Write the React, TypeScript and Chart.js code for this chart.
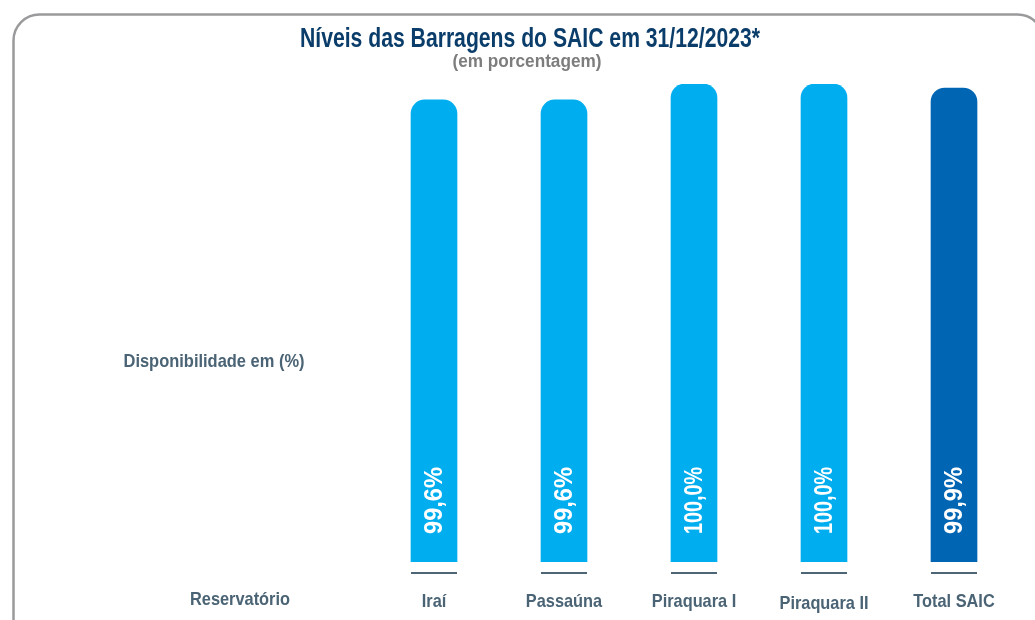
import React, { useEffect, useRef } from "react";
import { Chart, registerables } from "chart.js";

Chart.register(...registerables);

const categories = ["Iraí", "Passaúna", "Piraquara I", "Piraquara II", "Total SAIC"];
const levels = [99.6, 99.6, 100.0, 100.0, 99.9];
const barColors = ["#00aeef", "#00aeef", "#00aeef", "#00aeef", "#0066b3"];
const titleText = "Níveis das Barragens do SAIC em 31/12/2023*";
const subtitleText = "(em porcentagem)";
const yLabelText = "Disponibilidade em (%)";
const xLabelText = "Reservatório";

const FONT = '"Liberation Sans", Arial, sans-serif';
const AXIS_COLOR = "#4b6475";
const CONDENSE = 0.86;

function condensedText(ctx: any, text: string, x: number, y: number, factor: number) {
  const w = ctx.measureText(text).width;
  ctx.fillText(text, x, y, w * factor);
}

const decorPlugin = {
  id: "decor",
  beforeDraw(chart: any) {
    const ctx = chart.ctx;
    ctx.save();
    ctx.strokeStyle = "#9a9a9c";
    ctx.lineWidth = 2.5;
    ctx.beginPath();
    ctx.roundRect(13.5, 14.5, 1030, 700, 26);
    ctx.stroke();
    ctx.restore();
  },
  afterDraw(chart: any) {
    const ctx = chart.ctx;
    ctx.save();
    ctx.textAlign = "center";
    ctx.textBaseline = "middle";
    ctx.fillStyle = "#0b3d6b";
    ctx.font = `bold 27px ${FONT}`;
    ctx.fillText(titleText, 530, 40, 460);
    ctx.fillStyle = "#7d7d7d";
    ctx.font = `bold 18px ${FONT}`;
    ctx.fillText(subtitleText, 527, 62, 149);
    ctx.fillStyle = AXIS_COLOR;
    ctx.font = `bold 19px ${FONT}`;
    ctx.fillText(yLabelText, 214, 362, 181);
    ctx.fillText(xLabelText, 240, 600, 100);

    const xScale = chart.scales.x;
    categories.forEach((c, i) => {
      const px = xScale.getPixelForValue(i);
      ctx.fillStyle = AXIS_COLOR;
      ctx.font = `bold 19px ${FONT}`;
      ctx.textAlign = "center";
      ctx.textBaseline = "middle";
      condensedText(ctx, c, px, i === 3 ? 604 : 602, CONDENSE);
    });

    const bottom = chart.chartArea.bottom;
    const meta = chart.getDatasetMeta(0);
    meta.data.forEach((el: any, i: number) => {
      const x = el.x;
      const width = el.width;
      ctx.strokeStyle = "#4d6676";
      ctx.lineWidth = 2;
      ctx.beginPath();
      ctx.moveTo(x - width / 2, bottom + 11);
      ctx.lineTo(x + width / 2, bottom + 11);
      ctx.stroke();
      const label = levels[i].toFixed(1).replace(".", ",") + "%";
      ctx.save();
      ctx.translate(x, bottom - 28);
      ctx.rotate(-Math.PI / 2);
      ctx.fillStyle = "#ffffff";
      ctx.font = `bold 26px ${FONT}`;
      ctx.textAlign = "left";
      ctx.textBaseline = "middle";
      ctx.fillText(label, 0, 1, 67);
      ctx.restore();
    });
    ctx.restore();
  },
};

export default function App() {
  const ref = useRef<HTMLCanvasElement | null>(null);
  useEffect(() => {
    if (!ref.current) return;
    const chart = new Chart(ref.current, {
      type: "bar",
      data: {
        labels: categories,
        datasets: [
          {
            data: levels,
            backgroundColor: barColors,
            barThickness: 46,
            borderRadius: { topLeft: 14, topRight: 14, bottomLeft: 0, bottomRight: 0 },
            borderSkipped: false,
          },
        ],
      },
      options: {
        responsive: false,
        animation: false,
        layout: { padding: { top: 84, left: 369, right: 16, bottom: 0 } },
        plugins: {
          legend: { display: false },
          tooltip: { enabled: false },
          title: { display: false },
        },
        scales: {
          x: {
            grid: { display: false, drawTicks: false },
            border: { display: false },
            ticks: { display: false },
            afterFit: (s: any) => {
              s.height = 58;
            },
          },
          y: {
            display: false,
            min: 88,
            max: 100,
          },
        },
      },
      plugins: [decorPlugin],
    });
    return () => chart.destroy();
  }, []);
  return (
    <div style={{ position: "fixed", left: 0, top: 0, width: 1035, height: 620, background: "#fff" }}>
      <canvas ref={ref} width={1035} height={620} style={{ display: "block" }} />
    </div>
  );
}
